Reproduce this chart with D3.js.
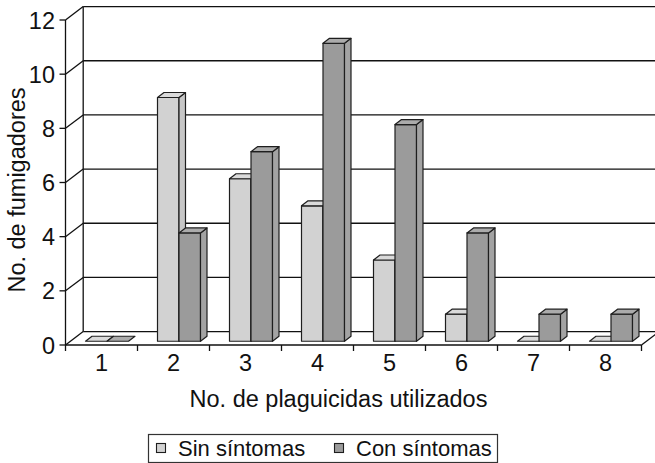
<!DOCTYPE html>
<html>
<head>
<meta charset="utf-8">
<script src="https://cdn.jsdelivr.net/npm/d3@7/dist/d3.min.js"></script>
<style>
  html, body { margin: 0; padding: 0; background: #fff; }
  svg { display: block; font-family: "Liberation Sans", Arial, sans-serif; }
</style>
</head>
<body>
<svg id="chart" width="655" height="463"></svg>
<script>
// Number of pesticides used vs. number of applicators, split by symptoms
const categories = ["1", "2", "3", "4", "5", "6", "7", "8"];
const seriesNames = ["Sin síntomas", "Con síntomas"];
const sinSintomas = [0, 9, 6, 5, 3, 1, 0, 0];
const conSintomas = [0, 4, 7, 11, 8, 4, 1, 1];
const yTicks = [0, 2, 4, 6, 8, 10, 12];
const xTitle = "No. de plaguicidas utilizados";
const yTitle = "No. de fumigadores";

const svg = d3.select("#chart");
const W = 655, H = 463;
const textColor = "#111";
const axisFont = 23.5;
const legendFont = 22;

// Front plane scales
const x0 = d3.scaleBand().domain(categories).range([65.5, 641.5]);
const xs = d3.scaleBand().domain(seriesNames).range([0, 43]);
const y = d3.scaleLinear().domain([0, 12]).range([345, 20]);

// Depth of the walls and of the bars (oblique projection)
const wallDX = 17.7, wallDY = -13.4;
const barFrontDX = 5, barFrontDY = -3.75;
const barDX = 6.5, barDY = -5;
const barOffset = 15;

const fills = {
  "Sin síntomas": { front: "#d2d2d2", side: "#c6c6c6", top: "#dadada" },
  "Con síntomas": { front: "#9b9b9b", side: "#a3a3a3", top: "#ababab" }
};
const edge = "#1e1e1e";

svg.append("defs").append("clipPath").attr("id", "cl")
  .append("rect").attr("x", 0).attr("y", 0).attr("width", W).attr("height", H);

const g = svg.append("g").attr("clip-path", "url(#cl)");
const lineStyle = sel => sel.attr("stroke", "#111").attr("stroke-width", 1.3).attr("fill", "none");

const xL = x0.range()[0], xR = x0.range()[1];
const yMax = d3.max(yTicks);

// Back wall gridlines
g.append("g").selectAll("line").data(yTicks).join("line")
  .attr("x1", xL + wallDX).attr("x2", xR + wallDX + 40)
  .attr("y1", d => y(d) + wallDY).attr("y2", d => y(d) + wallDY)
  .call(lineStyle);

// Back wall left edge
g.append("line")
  .attr("x1", xL + wallDX).attr("x2", xL + wallDX)
  .attr("y1", y(yMax) + wallDY).attr("y2", y(0) + wallDY)
  .call(lineStyle);

// Side wall diagonals
g.append("g").selectAll("line").data(yTicks).join("line")
  .attr("x1", xL).attr("y1", d => y(d))
  .attr("x2", xL + wallDX).attr("y2", d => y(d) + wallDY)
  .call(lineStyle);

// Floor front edge and right diagonal
g.append("line").attr("x1", xL).attr("x2", xR).attr("y1", y(0)).attr("y2", y(0)).call(lineStyle);
g.append("line").attr("x1", xR).attr("y1", y(0)).attr("x2", xR + wallDX).attr("y2", y(0) + wallDY).call(lineStyle);

// Value axis
g.append("line").attr("x1", xL).attr("x2", xL).attr("y1", y(yMax)).attr("y2", y(0)).call(lineStyle);
g.append("g").selectAll("line").data(yTicks).join("line")
  .attr("x1", xL - 6).attr("x2", xL).attr("y1", d => y(d)).attr("y2", d => y(d))
  .call(lineStyle);
g.append("g").selectAll("text").data(yTicks).join("text")
  .attr("x", 55).attr("y", d => y(d) + 8.5)
  .attr("text-anchor", "end").attr("font-size", axisFont).attr("fill", textColor)
  .text(d => d);

// Category axis ticks and labels
const bounds = categories.map(c => x0(c)).concat([xR]);
g.append("g").selectAll("line").data(bounds).join("line")
  .attr("x1", d => d).attr("x2", d => d).attr("y1", y(0)).attr("y2", y(0) + 6)
  .call(lineStyle);
g.append("g").selectAll("text").data(categories).join("text")
  .attr("x", d => x0(d) + x0.bandwidth() / 2).attr("y", 371)
  .attr("text-anchor", "middle").attr("font-size", axisFont).attr("fill", textColor)
  .text(d => d);

// Bars
const bars = [];
categories.forEach((c, i) => {
  bars.push({ cat: c, s: seriesNames[0], v: sinSintomas[i] });
  bars.push({ cat: c, s: seriesNames[1], v: conSintomas[i] });
});

const barG = g.append("g");
bars.forEach(b => {
  const bw = xs.bandwidth();
  const xa = x0(b.cat) + barOffset + xs(b.s) + barFrontDX;
  const xb = xa + bw;
  const yb = y(0) + barFrontDY;
  const yt = y(b.v) + barFrontDY;
  const f = fills[b.s];
  const grp = barG.append("g").attr("stroke", edge).attr("stroke-width", 1.2).attr("stroke-linejoin", "round");
  if (b.v > 0) {
    grp.append("path").attr("fill", f.front)
      .attr("d", `M${xa},${yb}L${xb},${yb}L${xb},${yt}L${xa},${yt}Z`);
    grp.append("path").attr("fill", f.side)
      .attr("d", `M${xb},${yb}L${xb + barDX},${yb + barDY}L${xb + barDX},${yt + barDY}L${xb},${yt}Z`);
  }
  grp.append("path").attr("fill", f.top)
    .attr("d", `M${xa},${yt}L${xb},${yt}L${xb + barDX},${yt + barDY}L${xa + barDX},${yt + barDY}Z`);
});

// Axis titles
svg.append("text")
  .attr("x", 338.5).attr("y", 407)
  .attr("text-anchor", "middle").attr("font-size", axisFont).attr("fill", textColor)
  .text(xTitle);
svg.append("text")
  .attr("transform", "translate(25,190) rotate(-90)")
  .attr("text-anchor", "middle").attr("font-size", axisFont).attr("fill", textColor)
  .text(yTitle);

// Legend
const lg = svg.append("g");
lg.append("rect").attr("x", 148.5).attr("y", 434.5).attr("width", 349).attr("height", 28)
  .attr("fill", "#fff").attr("stroke", "#333").attr("stroke-width", 1.2);
const legendX = [156, 334];
seriesNames.forEach((s, i) => {
  lg.append("rect").attr("x", legendX[i] + 0.5).attr("y", 443.5).attr("width", 9).attr("height", 9)
    .attr("fill", fills[s].front).attr("stroke", edge).attr("stroke-width", 1.1);
  lg.append("text").attr("x", legendX[i] + 22).attr("y", 456)
    .attr("font-size", legendFont).attr("fill", textColor).text(s);
});
</script>
</body>
</html>
